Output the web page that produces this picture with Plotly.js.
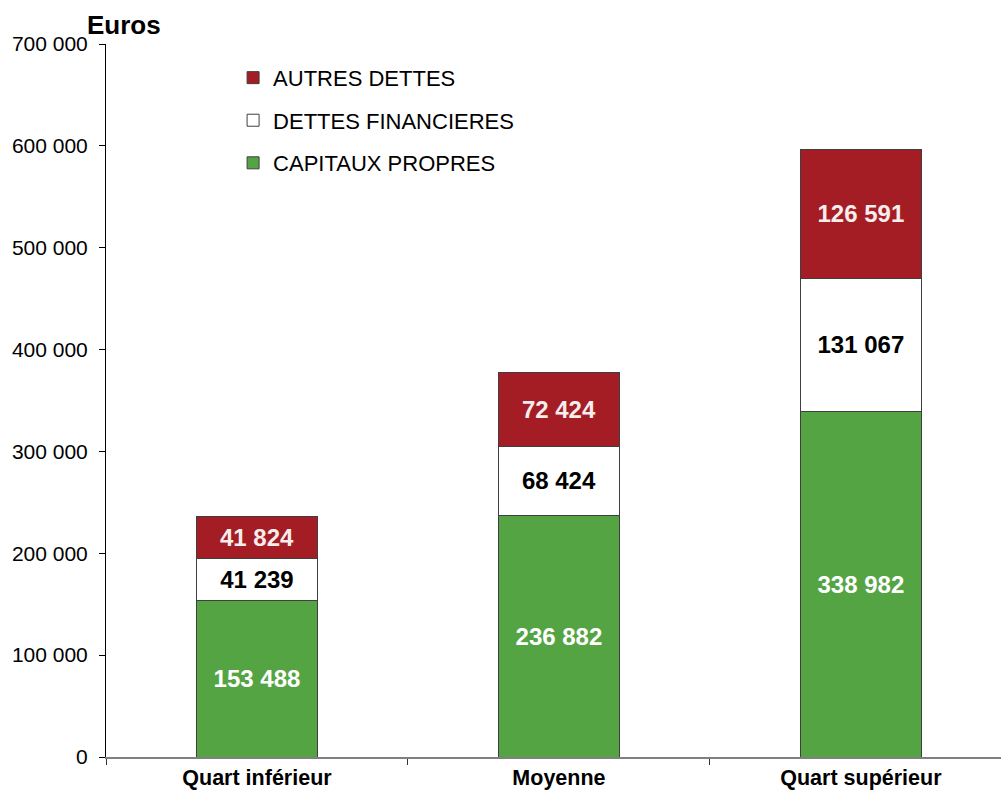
<!DOCTYPE html>
<html>
<head>
<meta charset="utf-8">
<script src="https://cdn.plot.ly/plotly-3.0.1.min.js"></script>
<style>html,body{margin:0;padding:0;background:#fff}#chart{width:1001px;height:792px}</style>
</head>
<body>
<div id="chart"></div>
<script>
const categories = ["Quart inférieur", "Moyenne", "Quart supérieur"];
const capitauxPropres = [153488, 236882, 338982];
const dettesFinancieres = [41239, 68424, 131067];
const autresDettes = [41824, 72424, 126591];
const seriesNames = ["CAPITAUX PROPRES", "DETTES FINANCIERES", "AUTRES DETTES"];
const yTickVals = [0, 100000, 200000, 300000, 400000, 500000, 600000, 700000];

const FONT = "Liberation Sans, Arial, sans-serif";
const outline = {color: "#3f3f3f", width: 1};

function barTrace(name, values, color, textColor, group, rank) {
  return {
    type: "bar",
    name: name,
    x: categories,
    y: values,
    width: 0.4,
    legendgroup: group,
    legendrank: rank,
    marker: {color: color, line: outline},
    texttemplate: "%{y:,}",
    textposition: "inside",
    insidetextanchor: "middle",
    textangle: 0,
    constraintext: "none",
    textfont: {family: FONT, size: 24, color: textColor, weight: "bold"},
    hoverinfo: "skip"
  };
}

const data = [
  barTrace(seriesNames[0], capitauxPropres, "#55a444", "#ffffff", "g3", 3),
  barTrace(seriesNames[1], dettesFinancieres, "#ffffff", "#000000", "g2", 2),
  barTrace(seriesNames[2], autresDettes, "#a51d24", "#f6eded", "g1", 1)
];

const layout = {
  width: 1001,
  height: 792,
  margin: {l: 106, r: 0, t: 44, b: 35},
  paper_bgcolor: "#ffffff",
  plot_bgcolor: "#ffffff",
  separators: ", ",
  barmode: "stack",
  font: {family: FONT, size: 21, color: "#000"},
  showlegend: true,
  legend: {
    x: 0.142, y: 0.982, xanchor: "left", yanchor: "top",
    traceorder: "grouped",
    tracegroupgap: 11,
    font: {family: FONT, size: 22, color: "#000"},
    bgcolor: "rgba(0,0,0,0)",
    itemclick: false
  },
  xaxis: {
    type: "category",
    range: [-0.5, 2.464],
    showline: true,
    linecolor: "#808080",
    linewidth: 2,
    ticks: "outside",
    tickson: "boundaries",
    ticklen: 6,
    tickcolor: "#333",
    tickfont: {family: FONT, size: 21.5, color: "#000", weight: "bold"},
    showgrid: false,
    zeroline: false,
    fixedrange: true
  },
  yaxis: {
    range: [0, 700000],
    tickvals: yTickVals,
    tickformat: ",",
    showline: true,
    linecolor: "#000",
    linewidth: 1,
    ticks: "outside",
    ticklen: 6,
    tickcolor: "#000",
    ticklabelstandoff: 7,
    tickfont: {family: FONT, size: 21, color: "#000"},
    showgrid: false,
    zeroline: false,
    fixedrange: true
  },
  annotations: [{
    text: "<b>Euros</b>",
    xref: "paper", yref: "paper",
    x: -0.024, y: 1.026,
    xanchor: "left", yanchor: "middle",
    showarrow: false,
    font: {family: FONT, size: 26, color: "#000"}
  }]
};

Plotly.newPlot("chart", data, layout, {displayModeBar: false, staticPlot: true});
</script>
</body>
</html>
